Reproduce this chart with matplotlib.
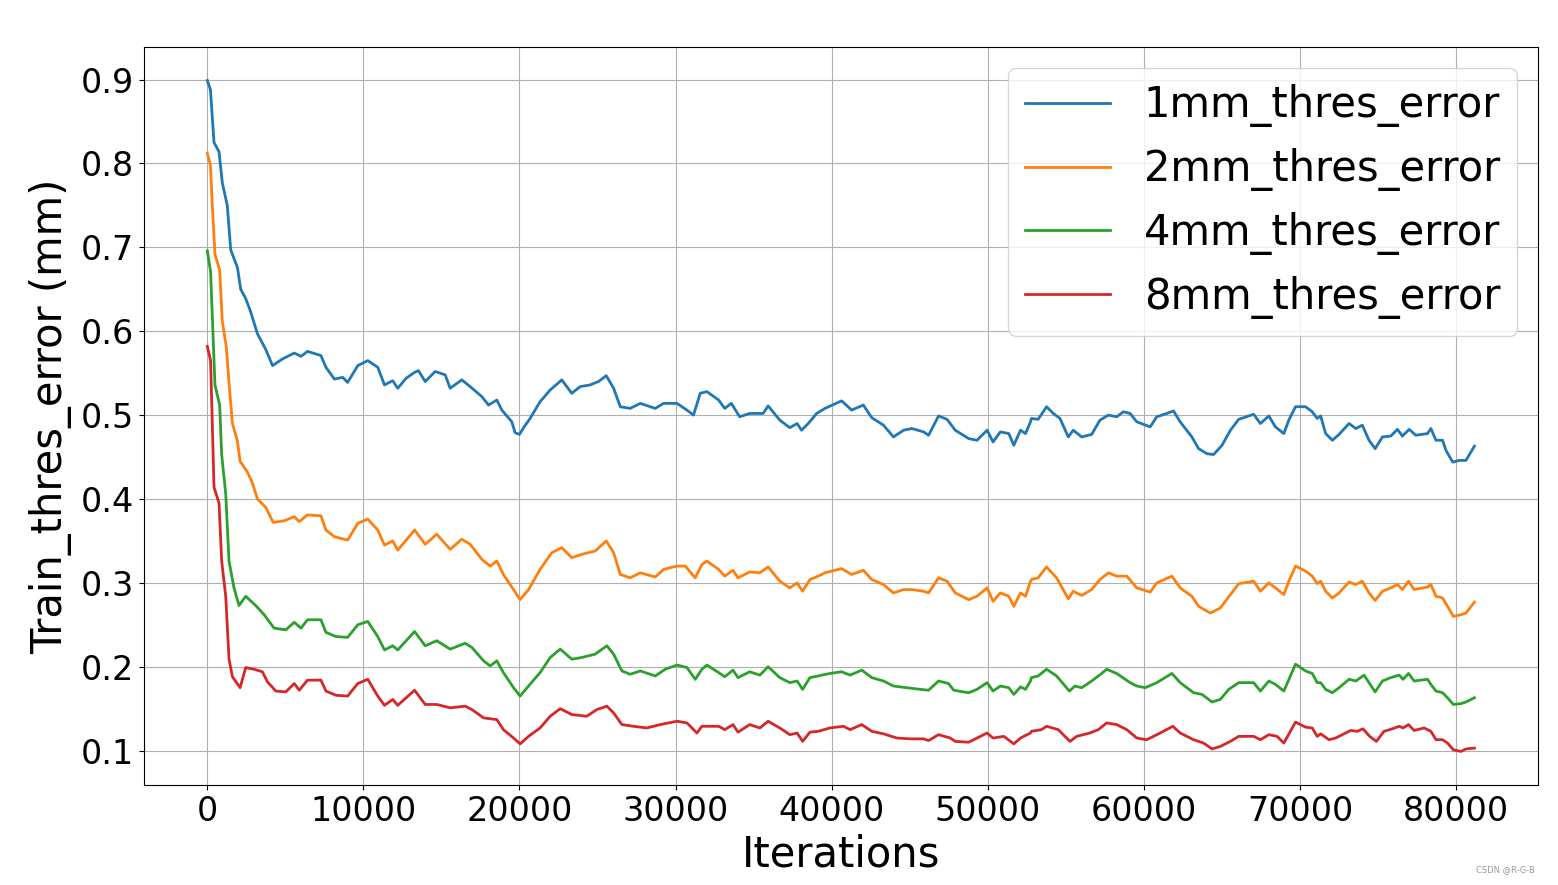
import matplotlib
matplotlib.use("Agg")
import matplotlib.pyplot as plt

# ---- data ----
it_1mm = [0, 200, 430, 750, 960, 1280, 1500, 1930, 2140, 2460, 2780, 3210, 3750, 4180, 4820, 5570, 6000, 6420, 7280, 7600, 8140, 8670, 8990, 9640, 10280, 10920, 11350, 11880, 12200, 12740, 13280,
          13530, 13960, 14600, 15240, 15560, 16300, 16840, 17590, 18020, 18550, 18870, 19510, 19720, 20000, 20260, 20680, 21320, 21970, 22710, 23350, 23890, 24530, 25060, 25560, 26030, 26460, 27090, 27740, 28700, 29230, 30090, 30730, 31150, 31580, 32010, 32760,
          33150, 33570, 34110, 34750, 35610, 35930, 36680, 37320, 37790, 38070, 38500, 39040, 39570, 40640, 41280, 42030, 42570, 43320, 43960, 44610, 45140, 45890, 46210, 46850, 47390, 47920, 48780, 49310, 49960, 50340, 50810, 51350, 51670, 52100, 52420, 52740,
          52800, 53230, 53770, 54200, 54630, 55160, 55480, 56020, 56660, 57190, 57730, 58260, 58690, 59120, 59550, 60410, 60830, 61480, 61900, 62330, 63080, 63510, 64050, 64470, 65010, 65550, 66080, 67040, 67470, 68010, 68430, 68970, 69290, 69720, 70360, 70790, 71110,
          71330, 71650, 72080, 72510, 73150, 73580, 74000, 74430, 74820, 75290, 75820, 76250, 76570, 77000, 77430, 78180, 78390, 78720, 79140, 79360, 79790, 80210, 80640, 81180]
err_1mm = [0.899, 0.888, 0.825, 0.814, 0.777, 0.750, 0.697, 0.676, 0.650, 0.639, 0.623, 0.597, 0.578, 0.559, 0.567, 0.574, 0.570, 0.576, 0.571, 0.557, 0.543, 0.545, 0.539, 0.559, 0.565, 0.557, 0.536, 0.541, 0.532, 0.544, 0.551,
           0.553, 0.540, 0.552, 0.548, 0.532, 0.542, 0.534, 0.522, 0.512, 0.518, 0.506, 0.492, 0.479, 0.477, 0.485, 0.496, 0.516, 0.530, 0.542, 0.526, 0.534, 0.536, 0.540, 0.547, 0.532, 0.510, 0.508, 0.514, 0.508, 0.514, 0.514, 0.506, 0.500, 0.526, 0.528, 0.518,
           0.508, 0.514, 0.498, 0.502, 0.502, 0.511, 0.494, 0.485, 0.490, 0.482, 0.490, 0.502, 0.508, 0.517, 0.506, 0.512, 0.497, 0.488, 0.474, 0.482, 0.484, 0.480, 0.476, 0.499, 0.495, 0.482, 0.472, 0.470, 0.482, 0.468, 0.480, 0.478, 0.464, 0.482, 0.478, 0.492,
           0.496, 0.495, 0.510, 0.502, 0.496, 0.474, 0.482, 0.474, 0.477, 0.494, 0.500, 0.498, 0.504, 0.502, 0.492, 0.486, 0.498, 0.502, 0.505, 0.492, 0.474, 0.460, 0.454, 0.453, 0.464, 0.482, 0.495, 0.501, 0.490, 0.499, 0.486, 0.478, 0.494, 0.510, 0.510, 0.504, 0.496,
           0.499, 0.478, 0.470, 0.477, 0.490, 0.484, 0.488, 0.470, 0.460, 0.474, 0.475, 0.483, 0.475, 0.483, 0.476, 0.478, 0.484, 0.470, 0.470, 0.458, 0.444, 0.446, 0.446, 0.463]

it_2mm = [0, 200, 320, 490, 790, 960, 1220, 1390, 1610, 1930, 2100, 2570, 2890, 3210, 3750, 4220, 4930, 5570, 5890, 6420, 7280, 7600, 8140, 8990, 9640, 10280, 10920, 11350, 11880, 12200, 13280,
          13960, 14700, 15560, 16300, 16840, 17590, 18120, 18550, 18970, 19620, 20040, 20580, 21320, 22070, 22710, 23350, 23990, 24850, 25560, 26030, 26460, 27090, 27740, 28700, 29230, 30090, 30620, 31260, 31690, 32010, 32760,
          33150, 33680, 34000, 34750, 35400, 35930, 36680, 37320, 37790, 38140, 38610, 39140, 39570, 40640, 41280, 42030, 42570, 43320, 43960, 44610, 45140, 45890, 46210, 46850, 47390, 47920, 48780, 49310, 49960, 50340, 50810, 51350, 51670, 52100, 52420, 52740,
          52800, 53230, 53770, 54410, 55160, 55480, 56020, 56660, 57190, 57730, 58260, 58910, 59550, 60410, 60830, 61800, 62330, 63080, 63510, 64260, 64900, 65550, 66080, 67040, 67470, 68010, 68430, 68970, 69290, 69720, 70360, 70790, 71110,
          71330, 71650, 72080, 72510, 73150, 73580, 74000, 74430, 74820, 75290, 75820, 76250, 76570, 76960, 77320, 78180, 78390, 78720, 79140, 79460, 79830, 80320, 80640, 81180]
err_2mm = [0.812, 0.798, 0.750, 0.692, 0.673, 0.612, 0.581, 0.538, 0.490, 0.469, 0.445, 0.432, 0.419, 0.400, 0.390, 0.372, 0.374, 0.379, 0.373, 0.381, 0.380, 0.363, 0.355, 0.351, 0.371, 0.376, 0.363, 0.345, 0.350, 0.339, 0.363,
           0.346, 0.358, 0.340, 0.352, 0.346, 0.328, 0.320, 0.326, 0.310, 0.292, 0.280, 0.292, 0.316, 0.336, 0.342, 0.330, 0.334, 0.338, 0.350, 0.336, 0.310, 0.306, 0.312, 0.307, 0.316, 0.320, 0.320, 0.306, 0.322, 0.326, 0.316,
           0.308, 0.315, 0.306, 0.313, 0.312, 0.319, 0.302, 0.294, 0.300, 0.290, 0.304, 0.308, 0.312, 0.317, 0.310, 0.315, 0.304, 0.298, 0.288, 0.292, 0.292, 0.290, 0.288, 0.306, 0.302, 0.288, 0.280, 0.284, 0.294, 0.278, 0.288, 0.284, 0.272, 0.288, 0.284, 0.302,
           0.304, 0.306, 0.319, 0.306, 0.281, 0.290, 0.285, 0.292, 0.304, 0.312, 0.308, 0.308, 0.294, 0.289, 0.300, 0.308, 0.294, 0.284, 0.272, 0.264, 0.270, 0.286, 0.299, 0.302, 0.290, 0.300, 0.294, 0.286, 0.302, 0.320, 0.314, 0.308, 0.299,
           0.302, 0.290, 0.282, 0.288, 0.301, 0.298, 0.302, 0.288, 0.279, 0.290, 0.294, 0.298, 0.292, 0.302, 0.292, 0.295, 0.298, 0.284, 0.282, 0.272, 0.260, 0.262, 0.264, 0.277]

it_4mm = [0, 210, 320, 490, 790, 920, 1180, 1390, 1710, 2030, 2460, 3100, 3640, 4280, 5030, 5570, 6000, 6420, 7280, 7600, 8240, 8990, 9640, 10280, 10920, 11350, 11880, 12200, 13280,
          13960, 14700, 15560, 16520, 16950, 17700, 18120, 18550, 18970, 19620, 20040, 20580, 21320, 21970, 22610, 23350, 23990, 24850, 25600, 26030, 26560, 27090, 27740, 28700, 29340, 30090, 30730, 31260, 31690, 32010, 32760,
          33150, 33680, 34000, 34750, 35400, 35930, 36680, 37320, 37790, 38140, 38610, 39140, 39890, 40640, 41180, 41930, 42570, 43320, 43960, 44820, 45670, 46210, 46850, 47490, 47820, 48780, 49310, 49960, 50340, 50810, 51350, 51670, 52100, 52420, 52740,
          52800, 53230, 53770, 54410, 55230, 55590, 56020, 56660, 57300, 57620, 58260, 59120, 59550, 60090, 60830, 61800, 62330, 63190, 63730, 64370, 64900, 65440, 66080, 67040, 67470, 68010, 68430, 68970, 69720, 70360, 70790, 71110,
          71330, 71650, 72080, 72510, 73150, 73580, 74110, 74430, 74820, 75290, 75820, 76360, 76610, 76960, 77320, 78180, 78390, 78720, 79140, 79460, 79830, 80320, 80640, 81180]
err_4mm = [0.696, 0.671, 0.618, 0.536, 0.512, 0.453, 0.406, 0.326, 0.294, 0.273, 0.284, 0.273, 0.262, 0.246, 0.244, 0.253, 0.246, 0.256, 0.256, 0.241, 0.236, 0.235, 0.250, 0.254, 0.236, 0.220, 0.225, 0.220, 0.242,
           0.225, 0.231, 0.221, 0.228, 0.223, 0.207, 0.201, 0.207, 0.193, 0.175, 0.165, 0.177, 0.193, 0.211, 0.221, 0.209, 0.211, 0.215, 0.225, 0.215, 0.195, 0.191, 0.195, 0.189, 0.197, 0.202, 0.199, 0.185, 0.197, 0.202, 0.193,
           0.188, 0.196, 0.187, 0.194, 0.190, 0.200, 0.187, 0.181, 0.183, 0.173, 0.187, 0.189, 0.192, 0.194, 0.190, 0.196, 0.187, 0.183, 0.177, 0.175, 0.173, 0.172, 0.183, 0.180, 0.172, 0.169, 0.173, 0.181, 0.171, 0.177, 0.175, 0.167, 0.176, 0.173, 0.183,
           0.187, 0.189, 0.197, 0.189, 0.171, 0.177, 0.175, 0.183, 0.192, 0.197, 0.192, 0.181, 0.177, 0.175, 0.181, 0.192, 0.181, 0.169, 0.167, 0.158, 0.161, 0.173, 0.181, 0.181, 0.171, 0.183, 0.179, 0.171, 0.203, 0.195, 0.192, 0.181,
           0.181, 0.173, 0.169, 0.175, 0.185, 0.183, 0.190, 0.181, 0.170, 0.183, 0.187, 0.190, 0.185, 0.192, 0.183, 0.185, 0.179, 0.171, 0.169, 0.163, 0.155, 0.156, 0.158, 0.163]

it_8mm = [0, 210, 430, 750, 920, 1180, 1390, 1610, 2100, 2460, 3000, 3530, 3850, 4390, 5030, 5570, 5890, 6420, 7280, 7600, 8240, 8990, 9640, 10280, 10920, 11350, 11880, 12200, 13280,
          13960, 14700, 15560, 16520, 16950, 17700, 18550, 18970, 19620, 20040, 20580, 21320, 21970, 22610, 23350, 24310, 24960, 25600, 26030, 26560, 27300, 28160, 29010, 30090, 30730, 31370, 31690, 32760,
          33150, 33680, 34000, 34750, 35400, 35930, 36680, 37320, 37790, 38140, 38610, 39140, 39890, 40750, 41180, 41930, 42570, 43320, 44180, 45030, 45890, 46210, 46850, 47600, 47920, 48780, 49310, 49960, 50340, 51030, 51670, 52100, 52740,
          52800, 53440, 53770, 54520, 55270, 55700, 56550, 57090, 57620, 58260, 58910, 59550, 60190, 61050, 61860, 62330, 63190, 63830, 64370, 64900, 65550, 66080, 67040, 67470, 68010, 68540, 68970, 69720, 70360, 70790, 71110,
          71330, 71860, 72290, 72720, 73250, 73680, 74040, 74470, 74900, 75390, 75930, 76360, 76610, 76960, 77320, 77960, 78390, 78720, 79140, 79460, 79830, 80320, 80640, 81180]
err_8mm = [0.582, 0.565, 0.414, 0.395, 0.326, 0.284, 0.209, 0.188, 0.175, 0.199, 0.197, 0.194, 0.182, 0.171, 0.170, 0.180, 0.172, 0.184, 0.184, 0.171, 0.166, 0.165, 0.180, 0.185, 0.165, 0.154, 0.161, 0.154, 0.172,
           0.155, 0.155, 0.151, 0.153, 0.149, 0.139, 0.137, 0.125, 0.115, 0.108, 0.117, 0.127, 0.141, 0.150, 0.143, 0.141, 0.149, 0.153, 0.145, 0.131, 0.129, 0.127, 0.131, 0.135, 0.133, 0.121, 0.129, 0.129,
           0.125, 0.131, 0.122, 0.131, 0.127, 0.135, 0.127, 0.119, 0.121, 0.111, 0.122, 0.123, 0.127, 0.129, 0.125, 0.131, 0.123, 0.120, 0.115, 0.114, 0.114, 0.112, 0.119, 0.115, 0.111, 0.110, 0.115, 0.121, 0.115, 0.117, 0.108, 0.115, 0.121,
           0.123, 0.125, 0.129, 0.125, 0.111, 0.117, 0.121, 0.125, 0.133, 0.131, 0.125, 0.115, 0.113, 0.121, 0.129, 0.121, 0.113, 0.109, 0.102, 0.105, 0.111, 0.117, 0.117, 0.113, 0.119, 0.117, 0.109, 0.134, 0.128, 0.127, 0.117,
           0.120, 0.113, 0.115, 0.119, 0.124, 0.123, 0.126, 0.117, 0.111, 0.123, 0.126, 0.129, 0.127, 0.131, 0.124, 0.127, 0.123, 0.113, 0.113, 0.109, 0.101, 0.099, 0.102, 0.103]

labels = ["1mm_thres_error", "2mm_thres_error", "4mm_thres_error", "8mm_thres_error"]
colors = ["#1f77b4", "#ff7f0e", "#2ca02c", "#d62728"]

fig = plt.figure(figsize=(15.58, 8.85), dpi=100)
ax = fig.add_axes([0.0924, 0.113, 0.8946, 0.834])

series = [(it_1mm, err_1mm), (it_2mm, err_2mm), (it_4mm, err_4mm), (it_8mm, err_8mm)]
for (xs, ys), lab, c in zip(series, labels, colors):
    ax.plot(xs, ys, color=c, lw=2.0, label=lab)

ax.grid(True)
ax.set_xticks([0, 10000, 20000, 30000, 40000, 50000, 60000, 70000, 80000])
ax.set_yticks([0.1, 0.2, 0.3, 0.4, 0.5, 0.6, 0.7, 0.8, 0.9])
ax.tick_params(axis="both", labelsize=24)
ax.set_xlabel("Iterations", fontsize=30, labelpad=4)
ax.set_ylabel("Train_thres_error (mm)", fontsize=30, labelpad=6)
ax.legend(loc="upper right", fontsize=30, handlelength=2.05)

fig.text(0.985, 0.012, "CSDN @R-G-B", fontsize=6, color="#999999", ha="right", va="bottom")

fig.savefig("out.png", dpi=100)
